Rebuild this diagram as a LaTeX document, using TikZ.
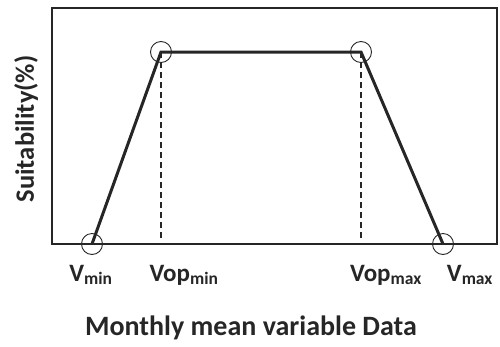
\documentclass[tikz,border=0pt]{standalone}
\usepackage{fontspec}
\setmainfont{Carlito}
\usetikzlibrary{positioning}
\tikzset{
  % Frame of the plot
  frame/.style={draw=black!85, line width=2.4pt},
  % Suitability curve
  curve/.style={draw=black!85, line width=3pt, line join=miter},
  % Dashed guide
  guide/.style={draw=black!85, line width=1.2pt, dash pattern=on 6pt off 4pt},
  % Break point marker
  mark circ/.style={circle, draw=black!85, line width=0.9pt, minimum size=21pt, inner sep=0pt},
  % Axis tick label
  ticklab/.style={font=\bfseries\fontsize{25}{27}\selectfont, text=black!85, inner sep=0pt},
  % Axis title
  axlab/.style={font=\bfseries\fontsize{28}{30}\selectfont, text=black!85, inner sep=0pt},
}
\begin{document}
\begin{tikzpicture}[x=1pt, y=-1pt]

\useasboundingbox (0,0) rectangle (500,346);

% ── Frame ───────────────────────────────────────────────
\coordinate (bl) at (52,244);
\coordinate (tr) at (497,8);
\draw[frame] (bl) rectangle (tr);

% ── Break points ────────────────────────────────────────
\coordinate (vmin)   at (92,244);
\coordinate (vopmin) at (161,52);
\coordinate (vopmax) at (361,52);
\coordinate (vmax)   at (443,244);

\draw[guide] (vopmin) -- (vopmin |- 0,240);
\draw[guide] (vopmax) -- (vopmax |- 0,240);

\draw[curve] (vmin) -- (vopmin) -- (vopmax) -- (vmax);

\node[mark circ] (cvmin)   at (vmin) {};
\node[mark circ] (cvopmin) at (vopmin) {};
\node[mark circ] (cvopmax) at (vopmax) {};
\node[mark circ] (cvmax)   at (vmax) {};

% ── Labels ──────────────────────────────────────────────
\node[ticklab] (lvmin)   at (91,275)  {V\textsubscript{min}};
\node[ticklab] (lvopmin) at (184,275) {Vop\textsubscript{min}};
\node[ticklab] (lvopmax) at (386,275) {Vop\textsubscript{max}};
\node[ticklab] (lvmax)   at (470,275) {V\textsubscript{max}};

\node[axlab] (xlab) at (251,328) {Monthly mean variable Data};
\node[axlab, rotate=90, font=\bfseries\fontsize{26.5}{28}\selectfont] (ylab) at (26,129) {Suitability(\%)};

\end{tikzpicture}
\end{document}
